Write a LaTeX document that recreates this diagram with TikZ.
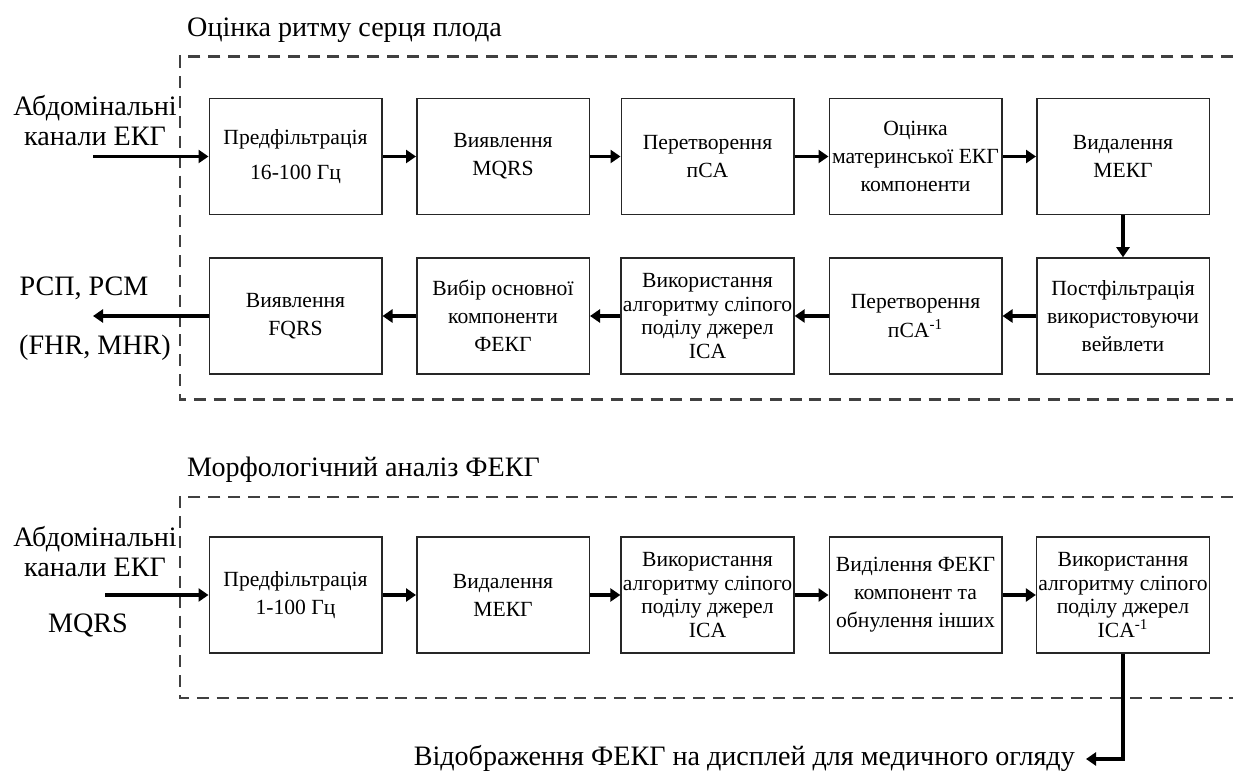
\documentclass[tikz,border=0pt]{standalone}
\usepackage{fontspec}
\setmainfont{Liberation Serif}
\usetikzlibrary{arrows.meta}

\begin{document}
\begin{tikzpicture}[
  blok/.style={draw=black!85,line width=0.85pt,minimum width=3.45cm,minimum height=2.32cm,
    align=center,inner sep=1pt,font=\fontsize{12.3}{16}\selectfont},
  blok4/.style={blok,font=\fontsize{12.3}{13.4}\selectfont},
  potik/.style={line width=2pt,-{Triangle[length=0.2cm,width=0.26cm]}},
  ramka/.style={draw=black!75,line width=1.7pt,dash pattern=on 6.8pt off 4.5pt},
  napys/.style={font=\fontsize{16}{17}\selectfont,align=center}]
  \useasboundingbox (0,0) rectangle (24.66,15.42);
  % ramky
  \draw[ramka] (24.66,14.28) -- (3.6,14.28) -- (3.6,7.42) -- (24.66,7.42);
  \draw[ramka] (24.66,5.48) -- (3.6,5.48) -- (3.6,1.46) -- (24.66,1.46);
  \node[napys,anchor=west] (tytul1) at (3.62,14.82) {Оцінка ритму серця плода};
  \node[napys,anchor=west] (tytul2) at (3.62,6.02) {Морфологічний аналіз ФЕКГ};
  % pershyi riad
  \node[blok] (a1) at (5.91,12.29) {Предфільтрація\\[0.15cm]16-100 Гц};
  \node[blok] (a2) at (10.06,12.29) {Виявлення\\MQRS};
  \node[blok] (a3) at (14.15,12.29) {Перетворення\\пCA};
  \node[blok] (a4) at (18.31,12.29) {Оцінка\\материнської ЕКГ\\компоненти};
  \node[blok] (a5) at (22.46,12.29) {Видалення\\МЕКГ};
  % druhyi riad
  \node[blok] (b1) at (5.91,9.10) {Виявлення\\FQRS};
  \node[blok] (b2) at (10.06,9.10) {Вибір основної\\компоненти\\ФЕКГ};
  \node[blok4] (b3) at (14.15,9.10) {Використання\\алгоритму сліпого\\поділу джерел\\ICA};
  \node[blok] (b4) at (18.31,9.10) {Перетворення\\пCA\textsuperscript{-1}};
  \node[blok] (b5) at (22.46,9.10) {Постфільтрація\\використовуючи\\вейвлети};
  % tretii riad
  \node[blok] (c1) at (5.91,3.52) {Предфільтрація\\1-100 Гц};
  \node[blok] (c2) at (10.06,3.52) {Видалення\\МЕКГ};
  \node[blok4] (c3) at (14.15,3.52) {Використання\\алгоритму сліпого\\поділу джерел\\ICA};
  \node[blok] (c4) at (18.31,3.52) {Виділення ФЕКГ\\компонент та\\обнулення інших};
  \node[blok4] (c5) at (22.46,3.52) {Використання\\алгоритму сліпого\\поділу джерел\\ICA\textsuperscript{-1}};
  % vhody i vyhody
  \node[napys] (vhid1) at (1.9,13.0) {Абдомінальні\\канали ЕКГ};
  \node[napys] (vyhid1) at (1.68,9.66) {РСП, РСМ};
  \node[napys] (vyhid2) at (1.9,8.46) {(FHR, MHR)};
  \node[napys] (vhid2) at (1.9,4.38) {Абдомінальні\\канали ЕКГ};
  \node[napys] (mqrs) at (1.76,2.92) {MQRS};
  \node[napys,anchor=east] (dysplei) at (21.62,0.26) {Відображення ФЕКГ на дисплей для медичного огляду};
  \coordinate (v1) at (1.86,12.29);
  \coordinate (v2) at (1.86,9.10);
  \coordinate (v3) at (2.1,3.52);
  \coordinate (kin) at (21.72,0.24);
  % strilky
  \draw[potik] (v1) -- (a1.west);
  \draw[potik] (a1.east) -- (a2.west);
  \draw[potik] (a2.east) -- (a3.west);
  \draw[potik] (a3.east) -- (a4.west);
  \draw[potik] (a4.east) -- (a5.west);
  \draw[potik] (a5.south) -- (b5.north);
  \draw[potik] (b5.west) -- (b4.east);
  \draw[potik] (b4.west) -- (b3.east);
  \draw[potik] (b3.west) -- (b2.east);
  \draw[potik] (b2.west) -- (b1.east);
  \draw[potik] (b1.west) -- (v2);
  \draw[potik] (v3) -- (c1.west);
  \draw[potik] (c1.east) -- (c2.west);
  \draw[potik] (c2.east) -- (c3.west);
  \draw[potik] (c3.east) -- (c4.west);
  \draw[potik] (c4.east) -- (c5.west);
  \draw[potik] (c5.south) |- (kin);
\end{tikzpicture}
\end{document}
